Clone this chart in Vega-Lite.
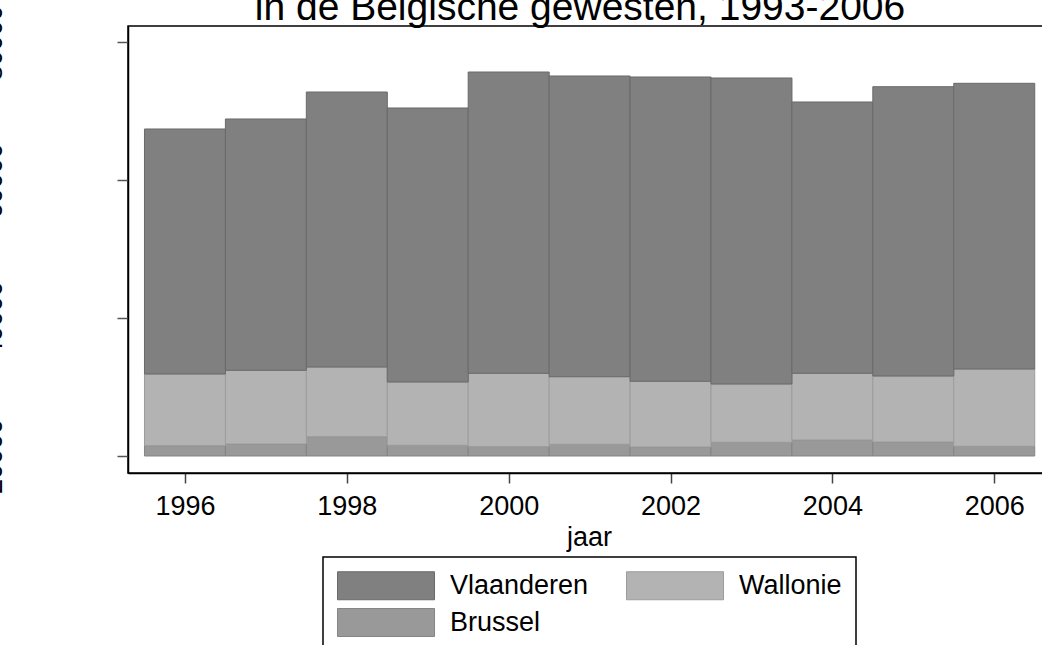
{
  "$schema": "https://vega.github.io/schema/vega-lite/v6.json",
  "width": 922,
  "height": 447,
  "autosize": {"type": "none"},
  "padding": {"left": 128, "top": 26, "right": 0, "bottom": 172},
  "background": "white",
  "title": {
    "text": "in de Belgische gewesten, 1993-2006",
    "fontSize": 39,
    "fontWeight": "normal",
    "font": "Liberation Sans",
    "color": "black",
    "anchor": "middle",
    "frame": "group",
    "baseline": "alphabetic",
    "offset": 12,
    "dx": -9,
    "dy": 66
  },
  "config": {
    "font": "Liberation Sans",
    "view": {"stroke": "black", "strokeWidth": 1.5},
    "legend": {
      "orient": "none",
      "legendX": 195,
      "legendY": 531,
      "direction": "horizontal",
      "columns": 2,
      "symbolType": "M-1,-1H5.93V1H-1Z",
      "symbolSize": 784,
      "symbolStrokeColor": "#8c8c8c",
      "symbolStrokeWidth": 1,
      "symbolOpacity": 1,
      "labelFontSize": 27,
      "labelFont": "Liberation Sans",
      "labelColor": "black",
      "labelOffset": 84,
      "labelLimit": 400,
      "columnPadding": 35,
      "rowPadding": 4,
      "padding": 14,
      "strokeColor": "black",
      "strokeWidth": 1.5,
      "fillColor": "white"
    }
  },
  "data": {
    "values": [
      {"jaar": 1996, "gewest": "Brussel", "aantal": 1495},
      {"jaar": 1997, "gewest": "Brussel", "aantal": 1741},
      {"jaar": 1998, "gewest": "Brussel", "aantal": 2800},
      {"jaar": 1999, "gewest": "Brussel", "aantal": 1553},
      {"jaar": 2000, "gewest": "Brussel", "aantal": 1378},
      {"jaar": 2001, "gewest": "Brussel", "aantal": 1698},
      {"jaar": 2002, "gewest": "Brussel", "aantal": 1306},
      {"jaar": 2003, "gewest": "Brussel", "aantal": 1988},
      {"jaar": 2004, "gewest": "Brussel", "aantal": 2322},
      {"jaar": 2005, "gewest": "Brussel", "aantal": 2031},
      {"jaar": 2006, "gewest": "Brussel", "aantal": 1407},
      {"jaar": 1996, "gewest": "Wallonie", "aantal": 10404},
      {"jaar": 1997, "gewest": "Wallonie", "aantal": 10694},
      {"jaar": 1998, "gewest": "Wallonie", "aantal": 10113},
      {"jaar": 1999, "gewest": "Wallonie", "aantal": 9185},
      {"jaar": 2000, "gewest": "Wallonie", "aantal": 10621},
      {"jaar": 2001, "gewest": "Wallonie", "aantal": 9809},
      {"jaar": 2002, "gewest": "Wallonie", "aantal": 9533},
      {"jaar": 2003, "gewest": "Wallonie", "aantal": 8459},
      {"jaar": 2004, "gewest": "Wallonie", "aantal": 9678},
      {"jaar": 2005, "gewest": "Wallonie", "aantal": 9577},
      {"jaar": 2006, "gewest": "Wallonie", "aantal": 11216},
      {"jaar": 1996, "gewest": "Vlaanderen", "aantal": 35550},
      {"jaar": 1997, "gewest": "Vlaanderen", "aantal": 36464},
      {"jaar": 1998, "gewest": "Vlaanderen", "aantal": 39903},
      {"jaar": 1999, "gewest": "Vlaanderen", "aantal": 39757},
      {"jaar": 2000, "gewest": "Vlaanderen", "aantal": 43719},
      {"jaar": 2001, "gewest": "Vlaanderen", "aantal": 43632},
      {"jaar": 2002, "gewest": "Vlaanderen", "aantal": 44154},
      {"jaar": 2003, "gewest": "Vlaanderen", "aantal": 44401},
      {"jaar": 2004, "gewest": "Vlaanderen", "aantal": 39366},
      {"jaar": 2005, "gewest": "Vlaanderen", "aantal": 41977},
      {"jaar": 2006, "gewest": "Vlaanderen", "aantal": 41455}
    ]
  },
  "mark": {"type": "bar", "width": 81, "strokeWidth": 1, "opacity": 1},
  "encoding": {
    "x": {
      "field": "jaar",
      "type": "quantitative",
      "scale": {"domain": [1995.296, 2006.689], "nice": false, "zero": false, "padding": 0},
      "axis": {
        "values": [1996, 1998, 2000, 2002, 2004, 2006],
        "format": "d",
        "title": "jaar",
        "grid": false,
        "tickSize": 10,
        "tickColor": "#444444",
        "tickWidth": 1.5,
        "labelPadding": 10,
        "labelFontSize": 27,
        "labelColor": "black",
        "labelFlush": false,
        "labelOverlap": false,
        "titleFontSize": 27,
        "titleFontWeight": "normal",
        "titleColor": "black",
        "titlePadding": 5,
        "domainColor": "black",
        "domainWidth": 1.5
      }
    },
    "y": {
      "field": "aantal",
      "type": "quantitative",
      "stack": "zero",
      "scale": {"domain": [-2467, 62393], "nice": false, "zero": false},
      "axis": {
        "values": [0, 20000, 40000, 60000],
        "labelExpr": "format(datum.value + 20000, 'd')",
        "title": null,
        "grid": false,
        "tickSize": 11,
        "tickColor": "#555555",
        "tickWidth": 1.5,
        "labelAngle": -90,
        "labelAlign": "center",
        "labelBaseline": "alphabetic",
        "labelPadding": 116,
        "labelFontSize": 27,
        "labelColor": "black",
        "labelOverlap": false,
        "labelFlush": false,
        "domainColor": "black",
        "domainWidth": 1.5
      }
    },
    "order": {"field": "aantal", "type": "quantitative", "sort": "ascending"},
    "color": {
      "field": "gewest",
      "type": "nominal",
      "scale": {"domain": ["Brussel", "Wallonie", "Vlaanderen"], "range": ["#999999", "#b3b3b3", "#808080"]},
      "legend": {"title": null, "values": ["Vlaanderen", "Wallonie", "Brussel"]}
    },
    "stroke": {
      "field": "gewest",
      "type": "nominal",
      "scale": {"domain": ["Brussel", "Wallonie", "Vlaanderen"], "range": ["#858585", "#9c9c9c", "#6a6a6a"]},
      "legend": null
    }
  }
}
